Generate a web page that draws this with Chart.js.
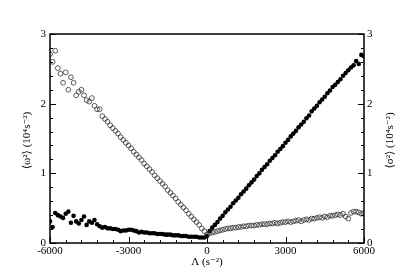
<!DOCTYPE html>
<html>
<head>
<meta charset="utf-8">
<script src="https://cdn.jsdelivr.net/npm/chart.js@4/dist/chart.umd.min.js"></script>
<style>
  html, body { margin: 0; padding: 0; background: #fff; }
  #wrap { width: 415px; height: 278px; }
</style>
</head>
<body>
<div id="wrap"><canvas id="chart" width="415" height="278"></canvas></div>
<script>
const lambdaValues = [
  -6000, -5900, -5800, -5700, -5600, -5500, -5400, -5300, -5200, -5100,
  -5000, -4900, -4800, -4700, -4600, -4500, -4400, -4300, -4200, -4100,
  -4000, -3900, -3800, -3700, -3600, -3500, -3400, -3300, -3200, -3100,
  -3000, -2900, -2800, -2700, -2600, -2500, -2400, -2300, -2200, -2100,
  -2000, -1900, -1800, -1700, -1600, -1500, -1400, -1300, -1200, -1100,
  -1000, -900, -800, -700, -600, -500, -400, -300, -200, -100,
  0, 100, 200, 300, 400, 500, 600, 700, 800, 900,
  1000, 1100, 1200, 1300, 1400, 1500, 1600, 1700, 1800, 1900,
  2000, 2100, 2200, 2300, 2400, 2500, 2600, 2700, 2800, 2900,
  3000, 3100, 3200, 3300, 3400, 3500, 3600, 3700, 3800, 3900,
  4000, 4100, 4200, 4300, 4400, 4500, 4600, 4700, 4800, 4900,
  5000, 5100, 5200, 5300, 5400, 5500, 5600, 5700, 5800, 5900,
  6000
];

// open circles
const openValues = [
  2.71, 2.60, 2.76, 2.51, 2.43, 2.30, 2.45, 2.20, 2.38, 2.30,
  2.12, 2.17, 2.20, 2.12, 2.05, 2.03, 2.08, 1.97, 1.92, 1.92,
  1.82, 1.78, 1.74, 1.69, 1.65, 1.61, 1.57, 1.52, 1.48, 1.44,
  1.40, 1.36, 1.31, 1.27, 1.23, 1.19, 1.14, 1.10, 1.06, 1.02,
  0.97, 0.93, 0.89, 0.85, 0.81, 0.76, 0.72, 0.68, 0.64, 0.59,
  0.55, 0.51, 0.47, 0.42, 0.38, 0.34, 0.30, 0.26, 0.21, 0.17,
  0.12, 0.14, 0.15, 0.16, 0.17, 0.18, 0.19, 0.20, 0.21, 0.21,
  0.22, 0.22, 0.23, 0.23, 0.24, 0.24, 0.25, 0.25, 0.25, 0.26,
  0.26, 0.27, 0.27, 0.27, 0.28, 0.28, 0.29, 0.28, 0.29, 0.30,
  0.30, 0.31, 0.30, 0.31, 0.32, 0.33, 0.31, 0.33, 0.34, 0.33,
  0.35, 0.35, 0.36, 0.37, 0.36, 0.38, 0.37, 0.39, 0.39, 0.40,
  0.41, 0.40, 0.42, 0.38, 0.35, 0.43, 0.45, 0.45, 0.44, 0.42,
  0.43
];

// filled circles
const filledValues = [
  0.31, 0.23, 0.43, 0.40, 0.38, 0.36, 0.42, 0.45, 0.29, 0.39,
  0.31, 0.28, 0.33, 0.38, 0.26, 0.31, 0.29, 0.33, 0.27, 0.24,
  0.22, 0.23, 0.21, 0.21, 0.20, 0.20, 0.19, 0.17, 0.18, 0.18,
  0.19, 0.19, 0.18, 0.17, 0.15, 0.16, 0.15, 0.15, 0.14, 0.14,
  0.14, 0.13, 0.13, 0.13, 0.12, 0.12, 0.12, 0.11, 0.11, 0.11,
  0.10, 0.10, 0.10, 0.09, 0.09, 0.09, 0.09, 0.08, 0.08, 0.08,
  0.10, 0.17, 0.22, 0.26, 0.30, 0.35, 0.39, 0.44, 0.48, 0.52,
  0.57, 0.61, 0.65, 0.70, 0.74, 0.78, 0.83, 0.87, 0.91, 0.96,
  1.00, 1.05, 1.09, 1.13, 1.18, 1.22, 1.26, 1.31, 1.35, 1.39,
  1.44, 1.48, 1.53, 1.57, 1.61, 1.66, 1.70, 1.74, 1.79, 1.83,
  1.89, 1.93, 1.97, 2.02, 2.06, 2.10, 2.15, 2.19, 2.24, 2.27,
  2.31, 2.35, 2.40, 2.44, 2.48, 2.52, 2.55, 2.61, 2.57, 2.70,
  2.68
];

const xTickValues = [-6000, -3000, 0, 3000, 6000];
const yTickValues = [0, 1, 2, 3];

const xTitle = "Λ (s⁻²)";
const leftTitle = "⟨ω²⟩ (10⁴s⁻²)";
const rightTitle = "⟨σ²⟩ (10⁴s⁻²)";

const FONT = "'Liberation Serif', 'DejaVu Serif', serif";

const toPoints = (values) => values.map((v, i) => ({ x: lambdaValues[i], y: v }));

// inward ticks, frame and axis titles
const frameAndTicks = {
  id: "frameAndTicks",
  afterDraw(chart) {
    const { ctx, chartArea: { left, right, top, bottom } } = chart;
    const xs = chart.scales.x;
    const ys = chart.scales.y;
    ctx.save();
    ctx.strokeStyle = "#000";

    ctx.lineWidth = 1;
    ctx.beginPath();
    for (let v = -6000; v <= 6000; v += 600) {
      const px = Math.round(xs.getPixelForValue(v)) + 0.5;
      const len = v % 3000 === 0 ? 6 : 3;
      ctx.moveTo(px, bottom);
      ctx.lineTo(px, bottom - len);
    }
    for (let i = 0; i <= 15; i++) {
      const v = i * 0.2;
      const py = Math.round(ys.getPixelForValue(v)) + 0.5;
      const len = i % 5 === 0 ? 6 : 3;
      ctx.moveTo(left, py);
      ctx.lineTo(left + len, py);
      ctx.moveTo(right, py);
      ctx.lineTo(right - len, py);
    }
    ctx.stroke();

    ctx.lineWidth = 1.5;
    ctx.strokeRect(left, top, right - left, bottom - top);

    ctx.fillStyle = "#000";
    ctx.font = "11px " + FONT;
    ctx.textAlign = "center";
    ctx.textBaseline = "middle";
    ctx.fillText(xTitle, (left + right) / 2, 262);

    const midY = (top + bottom) / 2 + 2;
    ctx.save();
    ctx.translate(27, midY);
    ctx.rotate(-Math.PI / 2);
    ctx.fillText(leftTitle, 0, 0);
    ctx.restore();

    ctx.save();
    ctx.translate(390, midY);
    ctx.rotate(-Math.PI / 2);
    ctx.fillText(rightTitle, 0, 0);
    ctx.restore();

    ctx.restore();
  },
};

const tickFont = { family: FONT, size: 11 };

new Chart(document.getElementById("chart"), {
  type: "scatter",
  data: {
    datasets: [
      {
        label: "open",
        data: toPoints(openValues),
        pointStyle: "circle",
        pointRadius: 2.4,
        pointBorderWidth: 0.8,
        pointBorderColor: "#333",
        pointBackgroundColor: "rgba(255,255,255,0)",
        yAxisID: "y",
      },
      {
        label: "filled",
        data: toPoints(filledValues),
        pointStyle: "circle",
        pointRadius: 2.3,
        pointBorderWidth: 0,
        pointBackgroundColor: "#000",
        yAxisID: "y",
      },
    ],
  },
  options: {
    responsive: false,
    animation: false,
    layout: { padding: { top: 34, left: 0, right: 0, bottom: 0 } },
    plugins: {
      legend: { display: false },
      tooltip: { enabled: false },
    },
    scales: {
      x: {
        type: "linear",
        min: -6000,
        max: 6000,
        afterBuildTicks: (scale) => {
          scale.ticks = xTickValues.map((v) => ({ value: v }));
        },
        afterFit: (scale) => { scale.height = 35; },
        grid: { display: false, drawTicks: false },
        border: { display: false },
        ticks: {
          font: tickFont,
          color: "#000",
          padding: 2,
          maxRotation: 0,
          autoSkip: false,
          callback: (v) => String(v),
        },
      },
      y: {
        position: "left",
        min: 0,
        max: 3,
        afterBuildTicks: (scale) => {
          scale.ticks = yTickValues.map((v) => ({ value: v }));
        },
        afterFit: (scale) => { scale.width = 50; },
        grid: { display: false, drawTicks: false },
        border: { display: false },
        ticks: { font: tickFont, color: "#000", padding: 4, callback: (v) => String(v) },
      },
      y2: {
        position: "right",
        min: 0,
        max: 3,
        afterBuildTicks: (scale) => {
          scale.ticks = yTickValues.map((v) => ({ value: v }));
        },
        afterFit: (scale) => { scale.width = 51; },
        grid: { display: false, drawTicks: false },
        border: { display: false },
        ticks: { font: tickFont, color: "#000", padding: 3, callback: (v) => String(v) },
      },
    },
  },
  plugins: [frameAndTicks],
});
</script>
</body>
</html>
